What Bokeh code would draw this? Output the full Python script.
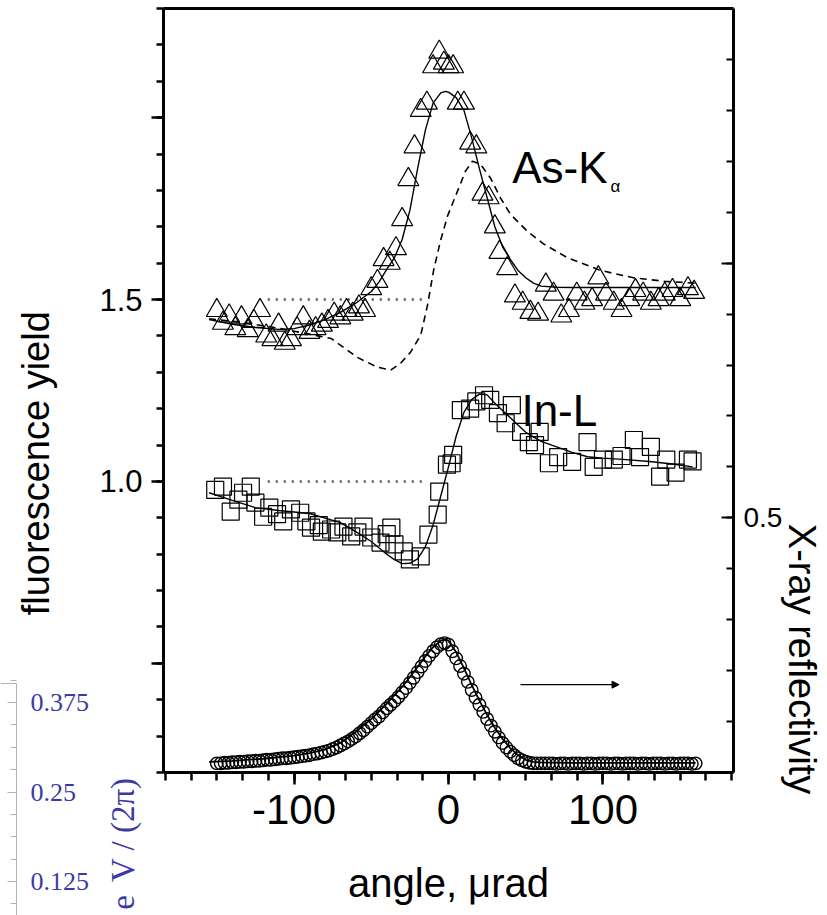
from math import pi
from bokeh.plotting import figure
from bokeh.models import Range1d, LinearAxis, FixedTicker, Label, Arrow, NormalHead
from bokeh.embed import file_html
from bokeh.resources import INLINE

# ---------------- data ----------------
# As-K alpha fluorescence (triangles, left axis)
ask_x = [-150, -146, -142, -138, -134, -130, -126, -122, -118, -114, -110, -106, -102, -98, -94, -90,
         -86, -82, -78, -74, -70, -66, -62, -58, -54, -50, -46, -42, -38, -34, -30, -26, -22, -18,
         -14, -10, -6, -3, 0, 3, 6, 10, 14, 18, 22, 26, 30, 33, 38, 43, 48, 53, 58, 63, 68, 73, 78,
         83, 88, 93, 97, 102, 107, 112, 117, 121, 126, 131, 136, 140, 145, 150, 155, 159]
ask_y = [1.47, 1.435, 1.455, 1.42, 1.45, 1.415, 1.44, 1.47, 1.40, 1.39, 1.43, 1.38, 1.39, 1.42, 1.45,
         1.41, 1.42, 1.43, 1.44, 1.46, 1.45, 1.47, 1.46, 1.48, 1.47, 1.53, 1.55, 1.61, 1.60, 1.64,
         1.72, 1.83, 1.92, 2.02, 2.04, 2.14, 2.18, 2.15, 2.14, 2.14, 2.04, 2.04, 1.93, 1.92, 1.79,
         1.78, 1.70, 1.63, 1.585, 1.51, 1.49, 1.465, 1.46, 1.54, 1.515, 1.455, 1.47, 1.515, 1.49,
         1.50, 1.56, 1.515, 1.49, 1.47, 1.50, 1.525, 1.515, 1.49, 1.50, 1.515, 1.525, 1.50, 1.53, 1.52]

# As-K fit (solid)
ask_fit_x = [-155, -140, -125, -110, -100, -90, -80, -70, -60, -50, -45, -40, -35, -30, -25, -20, -15,
             -10, -5, -2, 0, 5, 10, 15, 20, 25, 30, 35, 40, 45, 50, 55, 60, 70, 80, 100, 120, 140, 160]
ask_fit_y = [1.445, 1.432, 1.423, 1.418, 1.42, 1.43, 1.445, 1.465, 1.49, 1.522, 1.548, 1.583, 1.615,
             1.665, 1.745, 1.86, 1.965, 2.04, 2.068, 2.072, 2.07, 2.055, 2.02, 1.945, 1.86, 1.78,
             1.70, 1.645, 1.61, 1.58, 1.56, 1.545, 1.537, 1.534, 1.533, 1.533, 1.533, 1.533, 1.533]

# As-K calculation (dashed)
ask_dash_x = [-155, -135, -115, -100, -90, -76, -59, -46, -37.5, -31, -24.6, -18, -13.6, -9.7, -5.2,
              -0.6, 4.5, 11, 15.5, 20.7, 27.2, 33.7, 40, 51, 61.5, 77, 98.4, 119.7, 140, 160]
ask_dash_y = [1.447, 1.438, 1.425, 1.413, 1.405, 1.393, 1.341, 1.314, 1.306, 1.325, 1.355, 1.402,
              1.484, 1.579, 1.661, 1.730, 1.784, 1.853, 1.880, 1.872, 1.834, 1.779, 1.735, 1.688,
              1.653, 1.615, 1.580, 1.560, 1.550, 1.545]

# In-L fluorescence (squares, left axis)
inl_x = [-151, -146, -141, -136, -133, -128, -125, -120, -116, -111, -107, -102, -96, -92, -89, -84,
         -82, -76, -72, -68, -63, -59, -55, -50, -44, -40, -37, -35, -29, -25, -18, -13, -7, -6, -1,
         2, 3, 8, 14, 18, 23, 27, 32, 37, 41, 47, 52, 56, 59, 65, 71, 80, 90, 94, 100, 107, 112, 120,
         124, 131, 137, 141, 147, 155, 158]
inl_y = [0.977, 0.986, 0.917, 0.95, 0.969, 0.986, 0.942, 0.903, 0.928, 0.91, 0.89, 0.923, 0.914, 0.89,
         0.873, 0.88, 0.862, 0.868, 0.86, 0.876, 0.849, 0.86, 0.876, 0.846, 0.832, 0.855, 0.873, 0.827,
         0.808, 0.786, 0.794, 0.854, 0.909, 0.972, 1.046, 1.05, 1.073, 1.196, 1.20, 1.22, 1.237, 1.224,
         1.188, 1.16, 1.21, 1.136, 1.108, 1.10, 1.136, 1.05, 1.067, 1.054, 1.108, 1.04, 1.06, 1.06,
         1.07, 1.114, 1.067, 1.095, 1.013, 1.06, 1.024, 1.06, 1.055]

# In-L fit (solid)
inl_fit_x = [-155, -140, -125, -110, -90, -70, -60, -50, -40, -35, -30, -25, -20, -15, -10, -5, 0, 5,
             10, 15, 20, 25, 30, 40, 50, 60, 70, 80, 90, 100, 115, 130, 145, 158]
inl_fit_y = [0.969, 0.948, 0.928, 0.92, 0.912, 0.887, 0.862, 0.835, 0.80, 0.785, 0.774, 0.775, 0.787,
             0.82, 0.88, 0.96, 1.04, 1.125, 1.19, 1.225, 1.24, 1.238, 1.215, 1.175, 1.135, 1.11,
             1.095, 1.08, 1.068, 1.064, 1.06, 1.055, 1.048, 1.04]

# reference levels (dotted)
ask_level_x = [-117, -16]
ask_level_y = [1.5, 1.5]
inl_level_x = [-117, -14]
inl_level_y = [1.0, 1.0]

# X-ray reflectivity (circles, right axis)
refl_x = [-150, -147.5, -145, -142.5, -140, -137.5, -135, -132.5, -130, -127.5, -125, -122.5, -120,
          -117.5, -115, -112.5, -110, -107.5, -105, -102.5, -100, -97.5, -95, -92.5, -90, -87.5, -85,
          -82.5, -80, -77.5, -75, -72.5, -70, -67.5, -65, -62.5, -60, -57.5, -55, -52.5, -50, -47.5,
          -45, -42.5, -40, -37.5, -35, -32.5, -30, -27.5, -25, -22.5, -20, -17.5, -15, -12.5, -10,
          -7.5, -5, -2.5, 0, 2.5, 5, 7.5, 10, 12.5, 15, 17.5, 20, 22.5, 25, 27.5, 30, 32.5, 35, 37.5,
          40, 42.5, 45, 47.5, 50, 52.5, 55, 57.5, 60, 62.5, 65, 67.5, 70, 72.5, 75, 77.5, 80, 82.5,
          85, 87.5, 90, 92.5, 95, 97.5, 100, 102.5, 105, 107.5, 110, 112.5, 115, 117.5, 120, 122.5,
          125, 127.5, 130, 132.5, 135, 137.5, 140, 142.5, 145, 147.5, 150, 152.5, 155, 157.5, 160]
refl_y = [0.018, 0.018, 0.019, 0.019, 0.020, 0.020, 0.021, 0.021, 0.022, 0.022, 0.023, 0.023, 0.024,
          0.025, 0.025, 0.026, 0.027, 0.028, 0.028, 0.029, 0.030, 0.031, 0.032, 0.033, 0.034, 0.036,
          0.037, 0.039, 0.041, 0.043, 0.046, 0.049, 0.053, 0.057, 0.061, 0.066, 0.071, 0.077, 0.083,
          0.090, 0.097, 0.104, 0.110, 0.118, 0.126, 0.133, 0.140, 0.148, 0.157, 0.166, 0.176, 0.186,
          0.197, 0.208, 0.219, 0.229, 0.238, 0.246, 0.252, 0.254, 0.251, 0.238, 0.224, 0.209, 0.194,
          0.178, 0.162, 0.147, 0.133, 0.119, 0.105, 0.092, 0.080, 0.069, 0.058, 0.049, 0.041, 0.034,
          0.028, 0.024, 0.021, 0.019, 0.018, 0.018, 0.018, 0.018, 0.018, 0.018, 0.017, 0.018, 0.018,
          0.017, 0.018, 0.018, 0.018, 0.017, 0.018, 0.018, 0.017, 0.018, 0.018, 0.018, 0.017, 0.018,
          0.018, 0.017, 0.018, 0.018, 0.018, 0.017, 0.018, 0.018, 0.017, 0.018, 0.018, 0.018, 0.017,
          0.018, 0.018, 0.017, 0.018, 0.018, 0.018, 0.017, 0.018]

# reflectivity fit (solid)
refl_fit_x = [-155, -140, -120, -100, -90, -80, -70, -60, -50, -40, -30, -20, -15, -10, -5, -2, 0, 5,
              10, 15, 20, 25, 30, 35, 40, 45, 50, 55, 60, 80, 100, 130, 160]
refl_fit_y = [0.021, 0.023, 0.027, 0.033, 0.038, 0.045, 0.058, 0.080, 0.105, 0.135, 0.168, 0.207,
              0.228, 0.246, 0.259, 0.262, 0.258, 0.236, 0.205, 0.172, 0.141, 0.113, 0.088, 0.066,
              0.048, 0.034, 0.025, 0.021, 0.020, 0.019, 0.019, 0.019, 0.019]

# axis ticks / labels
x_major = [-100, 0, 100]
x_tick_text = {-100: "-100", 0: "0", 100: "100"}
y_major = [0.5, 1.0, 1.5, 2.0]
y_tick_text = {0.5: "", 1.0: "1.0", 1.5: "1.5", 2.0: ""}
r_major = [0.5, 1.0]
r_tick_text = {0.5: "0.5", 1.0: ""}
series_labels = ["As-K", "α", "In-L"]
x_title = "angle, μrad"
y_title = "fluorescence yield"
r_title = "X-ray reflectivity"
# fragment of the neighbouring (cropped) figure, bottom-left corner
frag_major = [0.125, 0.25, 0.375]
frag_tick_text = {0.125: "0.125", 0.25: "0.25", 0.375: "0.375"}
frag_title = ["V / (2π)", "e"]

# ---------------- layout constants (pixels) ----------------
W, H = 827, 915
FL, FR, FT, FB = 163, 733, 8, 772          # plot box inside the canvas
X0, X1 = -184.5, 184.5
Y0, Y1 = 0.2, 2.3
R0, R1 = 0.0, 1.5
sx = (FR - FL) / (X1 - X0)
sy = (FB - FT) / (Y1 - Y0)
sr = (FB - FT) / (R1 - R0)
sf = 716.0                                    # px per unit of the cropped neighbour axis
F_REF_V, F_REF_PX = 0.375, 702                # its 0.375 tick sits at y=702 px

p = figure(width=W, height=H, output_backend="svg", toolbar_location=None, title=None,
           x_range=Range1d(X0 - FL / sx, X1 + (W - FR) / sx),
           y_range=Range1d(Y0 - (H - FB) / sy, Y1 + FT / sy),
           min_border_left=0, min_border_right=0, min_border_top=0, min_border_bottom=0)
p.extra_y_ranges = {
    "refl": Range1d(R0 - (H - FB) / sr, R1 + FT / sr),
    "frag": Range1d(F_REF_V - (H - F_REF_PX) / sf, F_REF_V + F_REF_PX / sf),
}
p.grid.visible = False
p.outline_line_color = None
p.background_fill_color = "white"
p.border_fill_color = "white"

FONT = "Liberation Sans"


def style(ax, lw=3, tw=2.5):
    ax.axis_line_width = lw
    ax.axis_line_color = "black"
    ax.major_tick_line_width = tw
    ax.minor_tick_line_width = tw
    ax.major_tick_line_color = "black"
    ax.minor_tick_line_color = "black"
    ax.major_label_text_font = FONT
    ax.major_label_text_color = "black"


# bottom axis
xa = p.xaxis[0]
style(xa)
xa.fixed_location = Y0
xa.bounds = (X0, X1)
xa.ticker = FixedTicker(ticks=x_major, minor_ticks=[k * 100 / 6 for k in range(-11, 12)])
xa.major_label_overrides = x_tick_text
xa.major_tick_out = 12
xa.major_tick_in = 0
xa.minor_tick_out = 8
xa.minor_tick_in = 0
xa.major_label_text_font_size = "42px"
xa.major_label_standoff = 10
xa.axis_label = x_title
xa.axis_label_text_font = FONT
xa.axis_label_text_font_size = "40px"
xa.axis_label_text_font_style = "normal"
xa.axis_label_text_color = "black"
xa.axis_label_standoff = 34

# left axis
ya = p.yaxis[0]
style(ya)
ya.fixed_location = X0
ya.bounds = (Y0, Y1)
ya.ticker = FixedTicker(ticks=y_major, minor_ticks=[round(0.2 + 0.1 * k, 1) for k in range(22)])
ya.major_label_overrides = y_tick_text
ya.major_tick_out = 12
ya.major_tick_in = 0
ya.minor_tick_out = 7
ya.minor_tick_in = 0
ya.major_label_text_font_size = "31px"
ya.major_label_standoff = 9

# right axis (reflectivity)
ra = LinearAxis(y_range_name="refl", fixed_location=X1, bounds=(R0, R1))
style(ra, lw=3, tw=2)
ra.ticker = FixedTicker(ticks=r_major, minor_ticks=[round(0.1 * k, 1) for k in range(16)])
ra.major_label_overrides = r_tick_text
ra.major_tick_in = 12
ra.major_tick_out = 0
ra.minor_tick_in = 7
ra.minor_tick_out = 0
ra.major_label_text_font_size = "28px"
ra.major_label_standoff = 10
p.add_layout(ra, "right")

# top frame line
ta = LinearAxis(fixed_location=Y1, bounds=(X0, X1), ticker=FixedTicker(ticks=[]))
style(ta, lw=3)
ta.major_tick_out = 0
ta.major_tick_in = 0
ta.minor_tick_out = 0
ta.minor_tick_in = 0
p.add_layout(ta, "above")

# ---------------- glyphs ----------------
p.line(ask_level_x, ask_level_y, line_color="#555555", line_width=2.5, line_dash="2 6")
p.line(inl_level_x, inl_level_y, line_color="#555555", line_width=2.5, line_dash="2 6")

p.line(ask_dash_x, ask_dash_y, line_color="black", line_width=1.6, line_dash="7 5")
p.line(ask_fit_x, ask_fit_y, line_color="black", line_width=1.4)
p.scatter(ask_x, ask_y, marker="triangle", size=21, fill_color=None, line_color="black", line_width=1.2)

p.line(inl_fit_x, inl_fit_y, line_color="black", line_width=1.4)
p.scatter(inl_x, inl_y, marker="square", size=17, fill_color=None, line_color="black", line_width=1.2)

p.line(refl_fit_x, refl_fit_y, line_color="black", line_width=1.8, y_range_name="refl")
p.scatter(refl_x, refl_y, marker="circle", size=12.5, fill_color=None, line_color="black",
          line_width=1.4, y_range_name="refl")

p.add_layout(Arrow(end=NormalHead(size=7, fill_color="black", line_color="black", line_width=1),
                   x_start=46.6, y_start=0.1725, x_end=110.4, y_end=0.1725,
                   y_range_name="refl", line_color="black", line_width=1.2))

# ---------------- texts ----------------
p.add_layout(Label(x=41.2, y=1.862, text=series_labels[0], text_font=FONT, text_font_size="44px",
                   text_baseline="alphabetic", text_color="black"))
p.add_layout(Label(x=104.9, y=1.812, text=series_labels[1], text_font=FONT, text_font_size="17px",
                   text_baseline="alphabetic", text_color="black"))
p.add_layout(Label(x=47.2, y=1.196, text=series_labels[2], text_font=FONT, text_font_size="44px",
                   text_baseline="alphabetic", text_color="black"))

p.add_layout(Label(x=-267, y=1.05, text=y_title, angle=pi / 2, text_align="center",
                   text_baseline="middle", text_font=FONT, text_font_size="38px", text_color="black"))
p.add_layout(Label(x=229, y=0.512, text=r_title, angle=-pi / 2, text_align="center",
                   text_baseline="middle", text_font=FONT, text_font_size="38px", text_color="black"))

# ---------------- cropped neighbour figure (bottom-left corner) ----------------
BLUE = "#3b3ba8"
GRAY = "#b4b4b4"
FRAG_X = -279.6
FRAG_TOP = F_REF_V + (F_REF_PX - 683) / sf
fa = LinearAxis(y_range_name="frag", fixed_location=FRAG_X,
                bounds=(p.extra_y_ranges["frag"].start, FRAG_TOP))
fa.ticker = FixedTicker(ticks=frag_major, minor_ticks=[k * 0.03125 for k in range(0, 14)])
fa.major_label_overrides = frag_tick_text
fa.axis_line_color = GRAY
fa.axis_line_width = 1
fa.major_tick_line_color = GRAY
fa.minor_tick_line_color = GRAY
fa.major_tick_line_width = 1
fa.minor_tick_line_width = 1
fa.major_tick_in = 9
fa.major_tick_out = 0
fa.minor_tick_in = 6
fa.minor_tick_out = 0
fa.major_label_text_font = "Liberation Serif"
fa.major_label_text_font_size = "26px"
fa.major_label_text_color = BLUE
fa.major_label_standoff = 14
p.add_layout(fa, "right")
p.line([p.x_range.start, FRAG_X], [FRAG_TOP, FRAG_TOP], line_color=GRAY, line_width=1,
       y_range_name="frag")

p.add_layout(Label(x=-211, y=-0.101, text=frag_title[0], angle=pi / 2, text_align="left",
                   text_baseline="middle", text_font="Liberation Serif", text_font_size="33px",
                   text_color=BLUE))
p.add_layout(Label(x=-211, y=-0.137, text=frag_title[1], angle=pi / 2, text_align="right",
                   text_baseline="middle", text_font="Liberation Serif", text_font_size="33px",
                   text_color=BLUE))

open("out.html", "w").write(file_html(p, INLINE))
